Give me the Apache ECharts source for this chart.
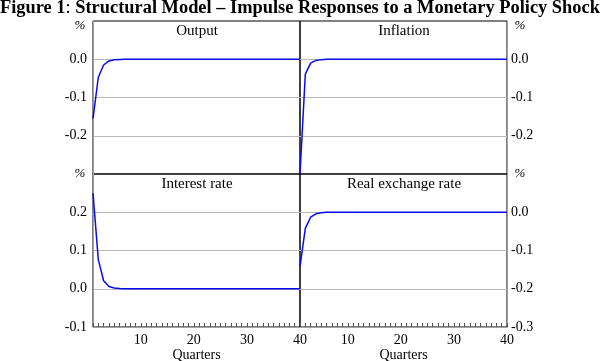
<!DOCTYPE html>
<html>
<head>
<meta charset="utf-8">
<script src="https://cdn.jsdelivr.net/npm/echarts@6/dist/echarts.min.js"></script>
<style>html,body{margin:0;padding:0;background:#fff}#c{width:600px;height:361px}</style>
</head>
<body>
<div id="c"></div>
<script>
const quarters = [1,2,3,4,5,6,7,8,9,10,11,12,13,14,15,16,17,18,19,20,21,22,23,24,25,26,27,28,29,30,31,32,33,34,35,36,37,38,39,40];
const output    = [-0.155,-0.047,-0.015,-0.0045,-0.0014,-0.0004,-0.0001,0,0,0,0,0,0,0,0,0,0,0,0,0,0,0,0,0,0,0,0,0,0,0,0,0,0,0,0,0,0,0,0,0];
const inflation = [-0.300,-0.039,-0.010,-0.003,-0.001,-0.0003,-0.0001,0,0,0,0,0,0,0,0,0,0,0,0,0,0,0,0,0,0,0,0,0,0,0,0,0,0,0,0,0,0,0,0,0];
const interest  = [0.250,0.076,0.021,0.006,0.0018,0.0005,0.0001,0,0,0,0,0,0,0,0,0,0,0,0,0,0,0,0,0,0,0,0,0,0,0,0,0,0,0,0,0,0,0,0,0];
const rer       = [-0.142,-0.042,-0.013,-0.004,-0.0012,-0.0003,-0.0001,0,0,0,0,0,0,0,0,0,0,0,0,0,0,0,0,0,0,0,0,0,0,0,0,0,0,0,0,0,0,0,0,0];
const xTickLabels = [10,20,30,40];
const panelTitles = ['Output','Inflation','Interest rate','Real exchange rate'];
const yRanges = [[-0.3,0.1],[-0.3,0.1],[-0.1,0.3],[-0.3,0.1]];

const FONT = 'Liberation Serif';
const GRAY = '#a0a0a0';
const chart = echarts.init(document.getElementById('c'), null, {renderer:'canvas'});

const grids = [
  {left:93, top:21, width:207, height:153},
  {left:300, top:21, width:207, height:153},
  {left:93, top:174, width:207, height:153},
  {left:300, top:174, width:207, height:153}
];
grids.forEach(g => {
  g.show = true; g.borderColor = '#000'; g.borderWidth = 1; g.backgroundColor = 'transparent';
  g.containLabel = false; g.outerBoundsMode = 'none';
});

const xAxes = grids.map((g,i) => {
  const bottom = i >= 2;
  return {
    type:'value', gridIndex:i, min:1, max:40, interval:1,
    axisLine:{show:bottom, onZero:false, lineStyle:{color:GRAY, width:1}},
    axisTick:{show:bottom, inside:true, length:4, lineStyle:{color:'#555'}},
    axisLabel:{show:bottom, margin:6, color:'#000', fontFamily:FONT, fontSize:14,
      formatter: v => xTickLabels.indexOf(v) >= 0 ? String(v) : ''},
    splitLine:{show:false},
    name: bottom ? 'Quarters' : '', nameLocation:'middle', nameGap:20,
    nameTextStyle:{color:'#000', fontFamily:FONT, fontSize:14}
  };
});

const yAxes = grids.map((g,i) => {
  const right = (i % 2) === 1;
  const bottom = i >= 2;
  return {
    type:'value', gridIndex:i, position: right ? 'right' : 'left',
    min:yRanges[i][0], max:yRanges[i][1], interval:0.1,
    axisLine:{show:true, onZero:false, lineStyle:{color:GRAY, width:1}},
    axisTick:{show:false},
    axisLabel:{color:'#000', fontFamily:FONT, fontSize:14, margin: right ? 4 : 6,
      showMinLabel: bottom, showMaxLabel:false,
      formatter: v => (Math.abs(v) < 1e-9 ? 0 : v).toFixed(1)},
    splitLine:{show:true, showMinLine:false, showMaxLine:false, lineStyle:{color:'#b8b8b8', width:1}}
  };
});

const dataSets = [output, inflation, interest, rer];
const series = dataSets.map((d,i) => ({
  type:'line', xAxisIndex:i, yAxisIndex:i, showSymbol:false, symbol:'none',
  data: quarters.map((q,k) => [q, d[k]]),
  lineStyle:{color:'#0a0aee', width:1.5}, clip:true, animation:false
}));

const titleCenters = [[197,24],[404,24],[197,177],[404,177]];
const titles = [{
  text:'{b|Figure 1}{n|:}{b| Structural Model – Impulse Responses to a Monetary Policy Shock}',
  left:0, top:-1, padding:0,
  textStyle:{rich:{
    b:{fontFamily:FONT, fontWeight:'bold', fontSize:18.4, color:'#000'},
    n:{fontFamily:FONT, fontWeight:'normal', fontSize:18.4, color:'#000'}
  }}
}].concat(panelTitles.map((t,i) => ({
  text:t, left:titleCenters[i][0], top:titleCenters[i][1], textAlign:'center', padding:0,
  textStyle:{fontFamily:FONT, fontWeight:'normal', fontSize:15, color:'#000'}
})));

const pct = [[80,26],[520,26],[80,174],[520,174]].map(p => ({
  type:'text', x:p[0], y:p[1],
  style:{text:'%', font:'italic 13px "Liberation Serif"', fill:'#000', align:'center', verticalAlign:'middle'}
}));

chart.setOption({
  animation:false,
  title: titles,
  grid: grids,
  xAxis: xAxes,
  yAxis: yAxes,
  series: series,
  graphic: pct
});
</script>
</body>
</html>
